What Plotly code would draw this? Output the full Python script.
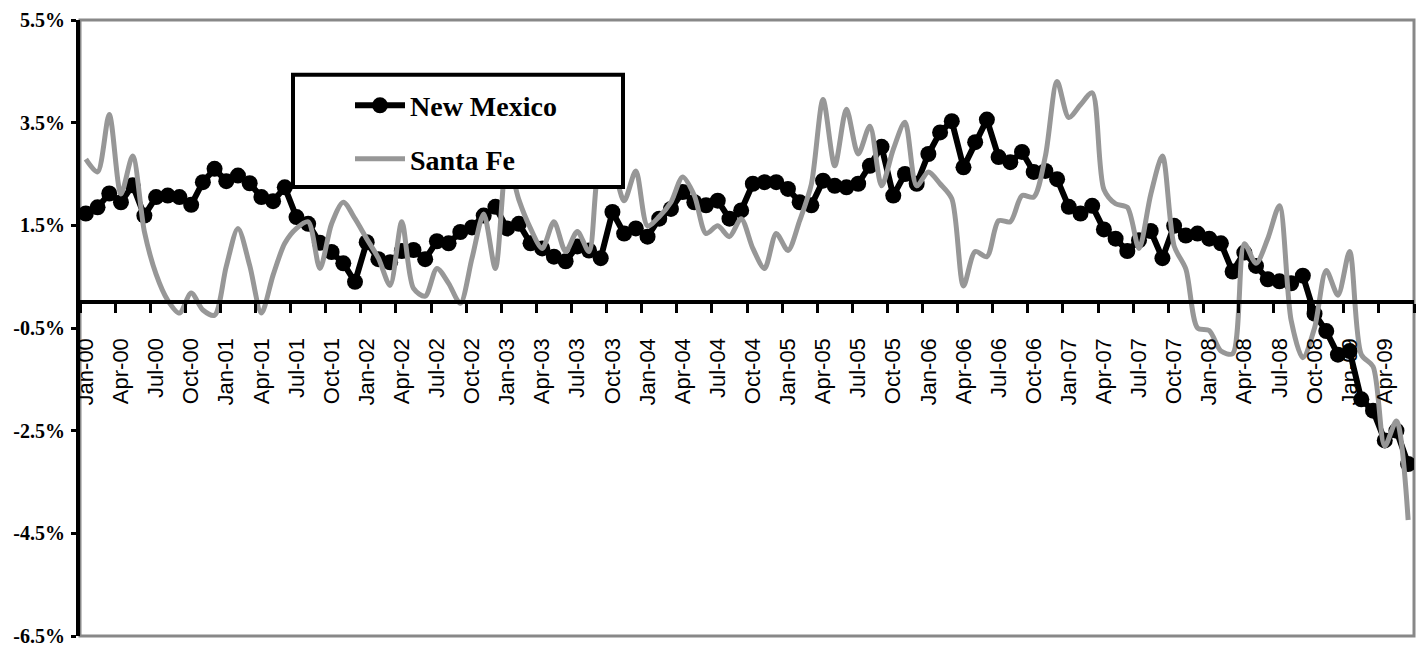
import plotly.graph_objects as go

tick_labels = ["Jan-00", "Apr-00", "Jul-00", "Oct-00", "Jan-01", "Apr-01", "Jul-01", "Oct-01",
               "Jan-02", "Apr-02", "Jul-02", "Oct-02", "Jan-03", "Apr-03", "Jul-03", "Oct-03",
               "Jan-04", "Apr-04", "Jul-04", "Oct-04", "Jan-05", "Apr-05", "Jul-05", "Oct-05",
               "Jan-06", "Apr-06", "Jul-06", "Oct-06", "Jan-07", "Apr-07", "Jul-07", "Oct-07",
               "Jan-08", "Apr-08", "Jul-08", "Oct-08", "Jan-09", "Apr-09"]

new_mexico = [1.73, 1.85, 2.12, 1.95, 2.28, 1.69, 2.05, 2.08, 2.05, 1.90, 2.34, 2.60,
              2.36, 2.47, 2.32, 2.05, 1.97, 2.24, 1.66, 1.53, 1.16, 0.98, 0.76, 0.40,
              1.17, 0.84, 0.78, 1.00, 1.02, 0.84, 1.19, 1.15, 1.37, 1.46, 1.69, 1.86,
              1.44, 1.53, 1.15, 1.05, 0.89, 0.80, 1.09, 1.01, 0.86, 1.76, 1.34, 1.44,
              1.28, 1.63, 1.82, 2.15, 1.95, 1.89, 1.98, 1.63, 1.79, 2.31, 2.34, 2.34,
              2.21, 1.95, 1.89, 2.37, 2.27, 2.24, 2.31, 2.66, 3.03, 2.08, 2.50, 2.31,
              2.89, 3.31, 3.53, 2.63, 3.12, 3.56, 2.83, 2.73, 2.93, 2.54, 2.56, 2.40,
              1.86, 1.73, 1.88, 1.42, 1.24, 1.00, 1.21, 1.39, 0.86, 1.49, 1.30, 1.34,
              1.24, 1.15, 0.60, 0.97, 0.71, 0.45, 0.41, 0.37, 0.52, -0.22, -0.56, -1.02,
              -0.95, -1.89, -2.11, -2.69, -2.50, -3.15]

santa_fe = [2.79, 2.54, 3.66, 2.11, 2.85, 1.38, 0.55, 0.04, -0.21, 0.18, -0.15, -0.25,
            0.70, 1.44, 0.72, -0.21, 0.53, 1.15, 1.44, 1.57, 0.66, 1.53, 1.95, 1.63,
            1.24, 0.86, 0.33, 1.57, 0.27, 0.12, 0.66, 0.37, -0.02, 0.86, 1.72, 0.66,
            2.80, 2.00, 1.44, 1.05, 1.57, 0.99, 1.38, 0.99, 2.70, 2.60, 1.98, 2.56,
            1.49, 1.67, 1.95, 2.44, 2.08, 1.34, 1.49, 1.28, 1.63, 1.05, 0.66, 1.34,
            1.01, 1.59, 2.30, 3.95, 2.66, 3.76, 2.89, 3.43, 2.27, 2.98, 3.51, 2.27,
            2.54, 2.31, 2.02, 0.32, 0.99, 0.89, 1.59, 1.57, 2.08, 2.05, 2.85, 4.30,
            3.60, 3.85, 4.08, 2.20, 1.92, 1.85, 1.05, 2.10, 2.85, 1.10, 0.65, -0.50,
            -0.55, -0.95, -1.00, 1.14, 0.76, 1.24, 1.88, -0.35, -1.08, -0.50, 0.62, 0.14,
            0.99, -1.02, -1.25, -2.80, -2.31, -4.24]

y_ticks = [-6.5, -4.5, -2.5, -0.5, 1.5, 3.5, 5.5]
y_tick_text = ["-6.5%", "-4.5%", "-2.5%", "-0.5%", "1.5%", "3.5%", "5.5%"]

n = len(new_mexico)
x_idx = list(range(n))
tick_pos = list(range(0, n, 3))[:len(tick_labels)]

W, H = 1419, 652
ML, MR, MT, MB = 80, 5, 20, 12
PW, PH = W - ML - MR, H - MT - MB
YMIN, YMAX = -6.5, 5.5


def px_x(px):
    return (px - ML) / PW


def px_y(py):
    return 1 - (py - MT) / PH


fig = go.Figure()
fig.add_trace(go.Scatter(
    x=x_idx, y=new_mexico, name="New Mexico", mode="lines+markers",
    line=dict(color="black", width=6),
    marker=dict(symbol="circle", size=16, color="black"),
    legendgroup="a"))
fig.add_trace(go.Scatter(
    x=x_idx, y=santa_fe, name="Santa Fe", mode="lines",
    line=dict(color="#979797", width=5, shape="spline", smoothing=0.8),
    legendgroup="b"))

shapes = [
    dict(type="rect", xref="paper", yref="paper", x0=0, x1=1, y0=0, y1=1,
         line=dict(color="#888888", width=3), fillcolor="rgba(0,0,0,0)", layer="below"),
    dict(type="rect", xref="paper", yref="paper",
         x0=px_x(293), x1=px_x(623), y0=px_y(188), y1=px_y(75),
         line=dict(color="black", width=4), fillcolor="white", layer="above"),
]

fig.update_layout(
    width=W, height=H,
    margin=dict(l=ML, r=MR, t=MT, b=MB),
    paper_bgcolor="white", plot_bgcolor="white",
    shapes=shapes,
    showlegend=True,
    legend=dict(x=px_x(350), y=px_y(81), xanchor="left", yanchor="top",
                bgcolor="rgba(0,0,0,0)", borderwidth=0,
                font=dict(family="Liberation Serif", size=28, color="black", weight="bold"),
                itemwidth=50, tracegroupgap=14, traceorder="grouped",
                itemsizing="trace"),
    xaxis=dict(
        range=[-0.5, n - 0.5],
        anchor="free", position=(0 - YMIN) / (YMAX - YMIN),
        showline=True, linecolor="black", linewidth=4,
        showgrid=False, zeroline=False,
        tickmode="array", tickvals=tick_pos, ticktext=tick_labels,
        ticks="outside", ticklen=9, tickwidth=3, tickcolor="rgba(0,0,0,0)",
        tickangle=-90, ticklabelstandoff=16,
        tickfont=dict(family="Liberation Sans", size=22, color="black"),
        minor=dict(ticks="outside", ticklen=9, tickwidth=3, tickcolor="black",
                   tickmode="linear", tick0=-0.5, dtick=3, showgrid=False),
        layer="above traces",
    ),
    yaxis=dict(
        range=[YMIN, YMAX],
        showline=True, linecolor="black", linewidth=4,
        showgrid=False, zeroline=False,
        tickmode="array", tickvals=y_ticks, ticktext=y_tick_text,
        ticks="outside", ticklen=5, tickwidth=3, tickcolor="black",
        ticklabelstandoff=2,
        tickfont=dict(family="Liberation Serif", size=20, color="black", weight="bold"),
        layer="above traces",
    ),
)

fig.write_html("out.html")
